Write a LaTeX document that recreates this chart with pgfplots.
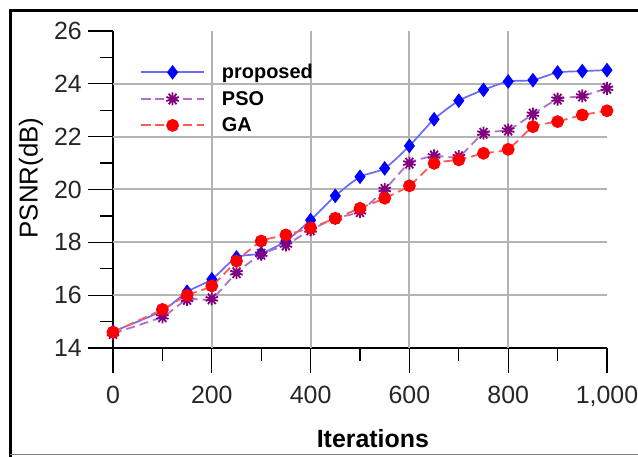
\documentclass[border=0pt]{standalone}
\usepackage{pgfplots}
\pgfplotsset{compat=1.18}
\usepackage{fontspec}
\setmainfont{Liberation Sans}
\definecolor{gridgray}{HTML}{B4B4B4}
\definecolor{propline}{HTML}{6A6AFF}
\definecolor{psoline}{HTML}{B070C8}
\definecolor{psomark}{HTML}{800080}
\definecolor{galine}{HTML}{FF5A5A}
\begin{document}
\begin{tikzpicture}
\useasboundingbox (0,0) rectangle (638bp,457bp);
\begin{axis}[
  at={(113bp,109bp)}, anchor=south west,
  scale only axis, width=494bp, height=317bp,
  xmin=0, xmax=1000, ymin=14, ymax=26,
  axis lines=left, axis line style={line width=1.4bp, -},
  xtick={0,200,...,1000}, minor xtick={100,300,...,900},
  ytick={14,16,...,26}, minor ytick={15,17,...,25},
  tick align=outside,
  major tick length=25bp, minor tick length=13bp,
  every tick/.style={black, line width=1.2bp},
  /pgf/number format/assume math mode=true,
  ticklabel style={font=\fontsize{25}{25}\selectfont, text=black!85, inner sep=0pt},
  xticklabel style={anchor=north, yshift=-13bp},
  yticklabel style={anchor=east, xshift=-6bp},
  xlabel={\bfseries Iterations},
  ylabel={PSNR(dB)},
  xlabel style={font=\fontsize{25}{25}\selectfont, at={(axis description cs:0.526,-0.287)}, anchor=center},
  ylabel style={font=\fontsize{26}{26}\selectfont, at={(axis description cs:-0.166,0.536)}, anchor=center},
  legend style={at={(rel axis cs:0.0486,0.908)}, anchor=north west, draw=none, fill=none,
    font=\bfseries\fontsize{20}{20}\selectfont, row sep=7bp, nodes={inner sep=2bp}},
  legend cell align=left,
  legend image code/.code={\draw[mark repeat=2,mark phase=2,#1] plot coordinates {(0bp,0bp) (31.5bp,0bp) (63bp,0bp)}; \path (78bp,0bp);},
  clip=false,
]
\pgfplotsinvokeforeach{200,400,600,800}{\draw[gridgray, line width=2bp] (axis cs:#1,14) -- (axis cs:#1,26);}
\pgfplotsinvokeforeach{16,18,20,22,24}{\draw[gridgray, line width=2bp] (axis cs:0,#1) -- (axis cs:1000,#1);}

\addplot[propline, line width=1.7bp, smooth, tension=0.4, mark=diamond*, mark size=6bp, mark options={solid, fill=blue, draw=blue}] coordinates {
(0,14.62) (100,15.41) (150,16.13) (200,16.60) (250,17.43) (300,17.58) (350,18.05) (400,18.84)
(450,19.76) (500,20.48) (550,20.80) (600,21.65) (650,22.66) (700,23.36) (750,23.77) (800,24.09)
(850,24.14) (900,24.43) (950,24.48) (1000,24.52)};
\addlegendentry{proposed}

\addplot[psoline, line width=1.8bp, dash pattern=on 9bp off 5bp, smooth, tension=0.3, mark=10-pointed star, mark size=6.5bp, mark options={solid, fill=psomark, draw=psomark}] coordinates {
(0,14.55) (100,15.18) (150,15.84) (200,15.86) (250,16.85) (300,17.55) (350,17.90) (400,18.47)
(450,18.91) (500,19.16) (550,20.00) (600,21.00) (650,21.27) (700,21.24) (750,22.13) (800,22.25)
(850,22.85) (900,23.42) (950,23.54) (1000,23.83)};
\addlegendentry{PSO}

\addplot[galine, line width=1.8bp, dash pattern=on 9bp off 5bp, smooth, tension=0.3, mark=*, mark size=5.5bp, mark options={solid, fill=red, draw=red}] coordinates {
(0,14.60) (100,15.46) (150,16.00) (200,16.35) (250,17.29) (300,18.05) (350,18.28) (400,18.55)
(450,18.91) (500,19.29) (550,19.67) (600,20.14) (650,20.99) (700,21.12) (750,21.37) (800,21.52)
(850,22.38) (900,22.57) (950,22.82) (1000,22.98)};
\addlegendentry{GA}
\end{axis}
\draw[line width=3bp] (10.5bp,0bp) -- (10.5bp,446bp) -- (638bp,446bp);
\draw[gray, line width=1bp] (10bp,2bp) -- (638bp,2bp);
\end{tikzpicture}
\end{document}
